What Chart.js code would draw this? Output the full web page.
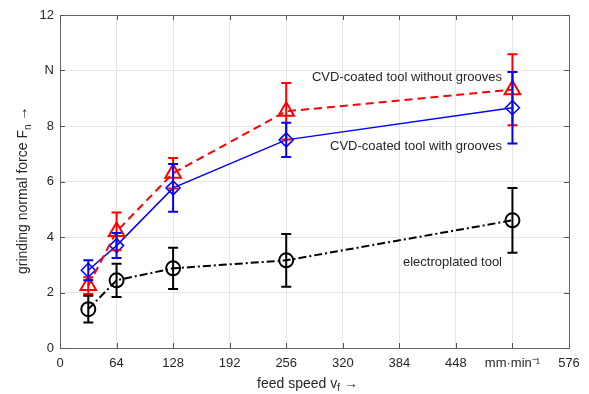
<!DOCTYPE html>
<html lang="en">
<head>
  <meta charset="UTF-8">
  <title>Grinding normal force vs feed speed</title>
  <script src="https://cdn.jsdelivr.net/npm/chart.js"></script>
  <style>
    body { margin: 0; background: #fff; }
    #wrap { width: 589px; height: 394px; }
  </style>
</head>
<body>
  <div id="wrap"><canvas id="forceChart" width="589" height="394"></canvas></div>

  <script>
    // feed speed in mm/min
    const feedSpeeds = [32, 64, 128, 256, 512];

    // mean normal force (N) and error (+/-)
    const noGrooves = [2.25, 4.2, 6.3, 8.53, 9.31];
    const noGroovesErr = [0.3, 0.68, 0.55, 1.02, 1.28];

    const withGrooves = [2.8, 3.69, 5.77, 7.5, 8.66];
    const withGroovesErr = [0.36, 0.45, 0.86, 0.62, 1.29];

    const electroplated = [1.4, 2.44, 2.87, 3.16, 4.6];
    const electroplatedErr = [0.48, 0.6, 0.74, 0.95, 1.17];

    const seriesNames = ['CVD-coated tool without grooves', 'CVD-coated tool with grooves', 'electroplated tool'];
    const xTickLabels = { 0: '0', 64: '64', 128: '128', 192: '192', 256: '256', 320: '320', 384: '384', 448: '448', 512: 'mm\u00B7min\u207B\u00B9', 576: '576' };
    const yTickLabels = { 0: '0', 2: '2', 4: '4', 6: '6', 8: '8', 10: 'N', 12: '12' };

    const textColor = '#262626';
    const fontFam = 'Arial, "Liberation Sans", sans-serif';

    function toPoints(vals) {
      return vals.map((v, i) => ({ x: feedSpeeds[i], y: v }));
    }

    // error bars, inward ticks, axis titles, labels
    const extras = {
      id: 'extras',
      afterDatasetsDraw(chart) {
        const ctx = chart.ctx;
        const ys = chart.scales.y;
        const xs = chart.scales.x;
        const area = chart.chartArea;
        const errs = [noGroovesErr, withGroovesErr, electroplatedErr];

        ctx.save();
        chart.data.datasets.forEach((ds, di) => {
          const meta = chart.getDatasetMeta(di);
          ctx.strokeStyle = ds.borderColor;
          ctx.lineWidth = 2;
          ctx.setLineDash([]);
          meta.data.forEach((pt, i) => {
            const v = ds.data[i].y;
            const top = ys.getPixelForValue(v + errs[di][i]);
            const bot = ys.getPixelForValue(v - errs[di][i]);
            ctx.beginPath();
            ctx.moveTo(pt.x, top); ctx.lineTo(pt.x, bot);
            ctx.moveTo(pt.x - 5, top); ctx.lineTo(pt.x + 5, top);
            ctx.moveTo(pt.x - 5, bot); ctx.lineTo(pt.x + 5, bot);
            ctx.stroke();
          });
        });

        // inward ticks on all four sides
        ctx.strokeStyle = '#555';
        ctx.lineWidth = 1;
        ctx.beginPath();
        xs.ticks.forEach(t => {
          const px = Math.round(xs.getPixelForValue(t.value)) + 0.5;
          ctx.moveTo(px, area.bottom); ctx.lineTo(px, area.bottom - 5);
          ctx.moveTo(px, area.top); ctx.lineTo(px, area.top + 5);
        });
        ys.ticks.forEach(t => {
          const py = Math.round(ys.getPixelForValue(t.value)) + 0.5;
          ctx.moveTo(area.left, py); ctx.lineTo(area.left + 5, py);
          ctx.moveTo(area.right, py); ctx.lineTo(area.right - 5, py);
        });
        ctx.stroke();

        // series labels
        ctx.fillStyle = textColor;
        ctx.font = '13px ' + fontFam;
        ctx.textAlign = 'right';
        ctx.textBaseline = 'middle';
        ctx.fillText(seriesNames[0], 502, 77);
        ctx.fillText(seriesNames[1], 502, 146);
        ctx.fillText(seriesNames[2], 502, 262);

        // x axis title with subscript
        ctx.textAlign = 'left';
        ctx.textBaseline = 'alphabetic';
        ctx.font = '14px ' + fontFam;
        let x0 = 257, yb = 388;
        ctx.fillText('feed speed v', x0, yb);
        x0 += ctx.measureText('feed speed v').width;
        ctx.font = '10px ' + fontFam;
        ctx.fillText('f', x0, yb + 3);
        x0 += ctx.measureText('f').width + 4;
        ctx.font = '14px ' + fontFam;
        ctx.fillText('\u2192', x0, yb);

        // y axis title, rotated
        ctx.translate(27, 274);
        ctx.rotate(-Math.PI / 2);
        let s = 0;
        ctx.font = '14px ' + fontFam;
        ctx.fillText('grinding normal force F', s, 0);
        s += ctx.measureText('grinding normal force F').width;
        ctx.font = '10px ' + fontFam;
        ctx.fillText('n', s, 4);
        s += ctx.measureText('n').width + 4;
        ctx.font = '14px ' + fontFam;
        ctx.fillText('\u2192', s, 0);
        ctx.restore();
      }
    };

    new Chart(document.getElementById('forceChart'), {
      type: 'scatter',
      data: {
        datasets: [
          {
            label: seriesNames[0],
            data: toPoints(noGrooves),
            showLine: true,
            borderColor: '#ff0000',
            borderWidth: 2,
            borderDash: [8, 5],
            pointStyle: 'triangle',
            pointRadius: 9,
            pointBorderWidth: 2,
            pointBackgroundColor: 'rgba(0,0,0,0)',
            pointBorderColor: '#ff0000'
          },
          {
            label: seriesNames[1],
            data: toPoints(withGrooves),
            showLine: true,
            borderColor: '#0000ff',
            borderWidth: 1.5,
            pointStyle: 'rectRot',
            pointRadius: 7,
            pointBorderWidth: 1.5,
            pointBackgroundColor: 'rgba(0,0,0,0)',
            pointBorderColor: '#0000ff'
          },
          {
            label: seriesNames[2],
            data: toPoints(electroplated),
            showLine: true,
            borderColor: '#000000',
            borderWidth: 2,
            borderDash: [8, 3, 2, 3],
            pointStyle: 'circle',
            pointRadius: 7,
            pointBorderWidth: 2,
            pointBackgroundColor: 'rgba(0,0,0,0)',
            pointBorderColor: '#000000'
          }
        ]
      },
      options: {
        responsive: false,
        animation: false,
        layout: { padding: { left: 0, top: 15, right: 20, bottom: 0 } },
        plugins: {
          legend: { display: false },
          tooltip: { enabled: false }
        },
        scales: {
          x: {
            type: 'linear',
            min: 0,
            max: 576,
            afterFit(scale) { scale.height = 46; },
            afterBuildTicks(scale) {
              scale.ticks = Object.keys(xTickLabels).map(v => ({ value: Number(v) }));
            },
            ticks: {
              color: textColor,
              font: { size: 13, family: fontFam },
              padding: 8,
              maxRotation: 0,
              autoSkip: false,
              callback: v => xTickLabels[v]
            },
            grid: { color: '#e5e5e5', drawTicks: false },
            border: { color: '#666', width: 1 }
          },
          y: {
            min: 0,
            max: 12,
            afterFit(scale) { scale.width = 60; },
            ticks: {
              stepSize: 2,
              color: textColor,
              font: { size: 13, family: fontFam },
              padding: 6,
              callback: v => yTickLabels[v]
            },
            grid: { color: '#e5e5e5', drawTicks: false },
            border: { color: '#666', width: 1 }
          },
          x2: {
            position: 'top', type: 'linear', min: 0, max: 576,
            ticks: { display: false }, grid: { display: false },
            border: { color: '#666', width: 1 },
            afterFit(scale) { scale.height = 0; }
          },
          y2: {
            position: 'right', min: 0, max: 12,
            ticks: { display: false }, grid: { display: false },
            border: { color: '#666', width: 1 },
            afterFit(scale) { scale.width = 0; }
          }
        }
      },
      plugins: [extras]
    });
  </script>
</body>
</html>
